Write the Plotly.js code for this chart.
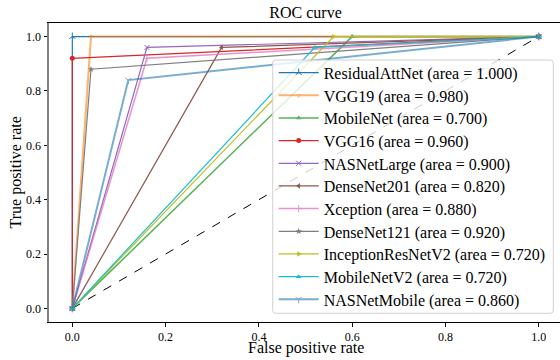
<!DOCTYPE html>
<html>
<head>
<meta charset="utf-8">
<script src="https://cdn.plot.ly/plotly-3.0.1.min.js"></script>
<style>html,body{margin:0;padding:0;background:#fff;}#chart{width:560px;height:360px;}</style>
</head>
<body>
<div id="chart"></div>
<script>
const models = ["ResidualAttNet","VGG19","MobileNet","VGG16","NASNetLarge","DenseNet201","Xception","DenseNet121","InceptionResNetV2","MobileNetV2","NASNetMobile"];
const fprPoint = [0, 0.04, 0.6, 0, 0.16, 0.32, 0.16, 0.04, 0.56, 0.52, 0.12];
const tprPoint = [1, 1, 1, 0.92, 0.96, 0.96, 0.92, 0.88, 1, 0.96, 0.84];
const aucValues = [1.000, 0.980, 0.700, 0.960, 0.900, 0.820, 0.880, 0.920, 0.720, 0.720, 0.860];
const chanceX = [0, 1];
const chanceY = [0, 1];
const xTicks = [0, 0.2, 0.4, 0.6, 0.8, 1.0];
const yTicks = [0, 0.2, 0.4, 0.6, 0.8, 1.0];

const colors = ["#1f77b4","#ff7f0e","#2ca02c","#d62728","#9467bd","#8c564b","#e377c2","#7f7f7f","#bcbd22","#17becf","#1f77b4"];
const symbols = ["y-up","triangle-down","triangle-up","circle","x-thin","triangle-left","cross-thin","star","triangle-right","triangle-up","y-down"];
const widths = [1.2, 2, 1.5, 1.2, 1.2, 1.2, 1.5, 1.2, 1.2, 1.2, 2];
const opac = [1, 0.6, 0.8, 1, 1, 1, 0.8, 1, 1, 1, 0.6];

const FONT = "Liberation Serif, Times New Roman, serif";

// plot-area geometry in pixels
const W = 560, H = 360;
const M = {l: 49, r: 0, t: 23, b: 38};
const PW = W - M.l - M.r, PH = H - M.t - M.b;
const px2x = p => (p - M.l) / PW;
const px2y = p => (H - M.b - p) / PH;

const traces = [{
  x: chanceX, y: chanceY, mode: "lines", showlegend: false, hoverinfo: "skip",
  line: {color: "black", dash: "dash", width: 1}
}];
models.forEach((m, i) => {
  const lineSym = symbols[i].indexOf("y-") === 0 || symbols[i].indexOf("-thin") > 0;
  traces.push({
    x: [0, fprPoint[i], 1],
    y: [0, tprPoint[i], 1],
    mode: "lines+markers",
    name: m + " (area = " + aucValues[i].toFixed(3) + ")",
    legend: i === 0 ? "legend" : "legend" + (i + 1),
    opacity: opac[i],
    line: {color: colors[i], width: widths[i]},
    marker: {symbol: symbols[i], size: 5, color: colors[i],
             line: {color: colors[i], width: lineSym ? 1 : 0}}
  });
});

// legend frame (rounded box)
const bx0 = px2x(272.7), bx1 = px2x(553.3), by0 = px2y(313.3), by1 = px2y(60);
const rx = 3 / PW, ry = 3 / PH;
const framePath = `M${bx0 + rx},${by1} L${bx1 - rx},${by1} Q${bx1},${by1} ${bx1},${by1 - ry} ` +
  `L${bx1},${by0 + ry} Q${bx1},${by0} ${bx1 - rx},${by0} L${bx0 + rx},${by0} Q${bx0},${by0} ${bx0},${by0 + ry} ` +
  `L${bx0},${by1 - ry} Q${bx0},${by1} ${bx0 + rx},${by1} Z`;

const layout = {
  width: W, height: H,
  margin: M,
  paper_bgcolor: "white", plot_bgcolor: "white",
  font: {family: FONT, color: "black", size: 12},
  title: {text: "ROC curve", font: {family: FONT, size: 16, color: "black"},
          xref: "paper", x: 0.502, xanchor: "center", yref: "container", y: 0.966, yanchor: "middle"},
  xaxis: {
    range: [-0.05, 1.0456], tickvals: xTicks, ticktext: xTicks.map(v => v.toFixed(1)),
    showgrid: false, zeroline: false, showline: true, linecolor: "black", linewidth: 1, mirror: true,
    ticks: "outside", ticklen: 3.5, tickwidth: 1, tickcolor: "black",
    tickfont: {family: FONT, size: 12, color: "black"},
    automargin: false
  },
  yaxis: {
    range: [-0.05, 1.05], tickvals: yTicks, ticktext: yTicks.map(v => v.toFixed(1)),
    showgrid: false, zeroline: false, showline: true, linecolor: "#808080", linewidth: 2, mirror: false,
    ticks: "outside", ticklen: 3.5, tickwidth: 1, tickcolor: "black",
    tickfont: {family: FONT, size: 12, color: "black"},
    automargin: false
  },
  annotations: [
    {text: "False positive rate", xref: "paper", yref: "paper", x: px2x(305.5), y: px2y(347.5),
     xanchor: "center", yanchor: "middle", showarrow: false, font: {family: FONT, size: 16, color: "black"}},
    {text: "True positive rate", xref: "paper", yref: "paper", x: px2x(15), y: px2y(172.5), textangle: -90,
     xanchor: "center", yanchor: "middle", showarrow: false, font: {family: FONT, size: 16, color: "black"}}
  ],
  shapes: [{type: "path", xref: "paper", yref: "paper", path: framePath, layer: "above",
            fillcolor: "rgba(255,255,255,0.8)", line: {color: "rgba(204,204,204,0.9)", width: 1}}],
  showlegend: true
};

models.forEach((m, i) => {
  const key = i === 0 ? "legend" : "legend" + (i + 1);
  layout[key] = {
    x: px2x(273.7), y: px2y(72.7 + 22.67 * i), xanchor: "left", yanchor: "middle",
    bgcolor: "rgba(0,0,0,0)", borderwidth: 0,
    font: {family: FONT, size: 16, color: "black"},
    itemwidth: 40, tracegroupgap: 0
  };
});

Plotly.newPlot("chart", traces, layout, {staticPlot: true, displayModeBar: false});
</script>
</body>
</html>
